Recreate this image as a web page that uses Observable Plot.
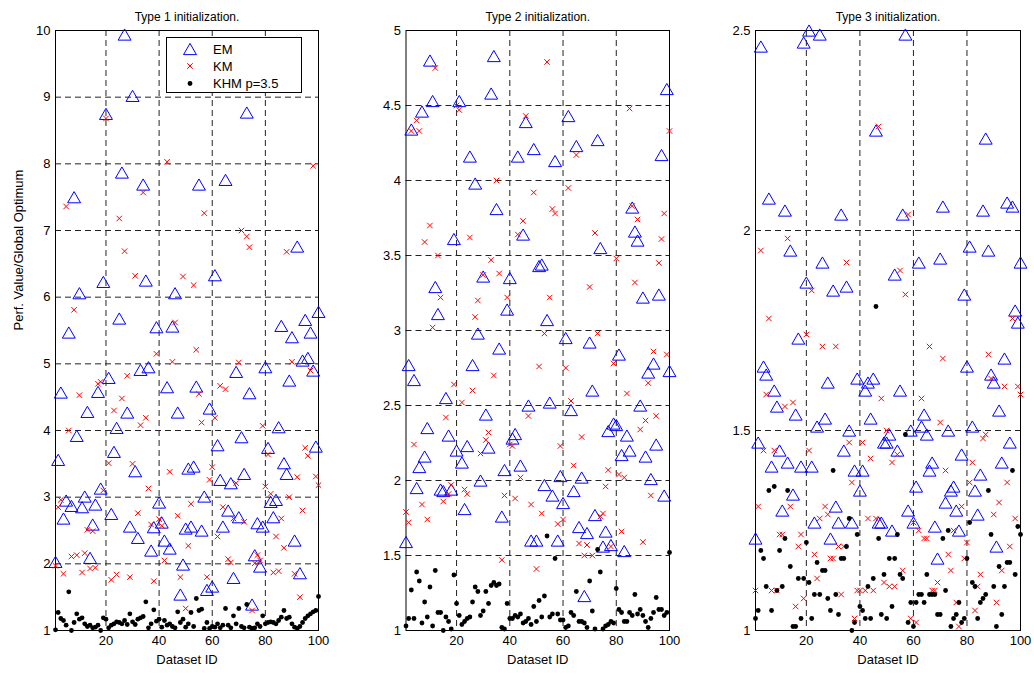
<!DOCTYPE html>
<html><head><meta charset="utf-8">
<script src="https://cdn.jsdelivr.net/npm/d3@7"></script>
<script src="https://cdn.jsdelivr.net/npm/@observablehq/plot@0.6"></script>
<style>
body{margin:0;background:#fff;font-family:"Liberation Sans",Arial,sans-serif;}
#wrap{position:relative;width:1034px;height:674px;overflow:hidden;background:#fff;}
.legend{position:absolute;left:166px;top:37px;width:136px;height:56px;border:1px solid #000;background:#fff;box-sizing:border-box;}
.legend svg{position:absolute;left:0;top:0;}
</style></head><body><div id="wrap"></div>
<script>
// ---- data ----
const datasetIds = d3.range(1, 101);
const xTicks = [20, 40, 60, 80, 100];
const titles = ["Type 1 initialization.", "Type 2 initialization.", "Type 3 initialization."];
const seriesNames = ["EM", "KM", "KHM p=3.5"];
const yTicks1 = [1, 2, 3, 4, 5, 6, 7, 8, 9, 10];
const yTicks2 = [1, 1.5, 2, 2.5, 3, 3.5, 4, 4.5, 5];
const yTicks3 = [1, 1.5, 2, 2.5];
const yLabel = "Perf. Value/Global Optimum";
const xLabel = "Dataset ID";

const em1 = [2.03,3.56,4.57,2.68,2.95,5.47,2.87,7.5,3.92,6.06,
 2.85,3.01,4.28,2.09,2.59,2.89,4.58,3.13,6.23,8.75,
 4.79,2.75,3.68,4.04,5.68,7.87,9.94,4.27,2.56,9.02,
 3.39,2.39,4.91,7.69,6.25,4.95,2.2,2.55,5.55,2.92,
 2.62,2.35,4.65,2.23,5.56,6.06,4.27,1.54,1.99,2.53,
 3.43,2.56,3.46,4.66,7.69,2.5,3.01,1.61,4.33,1.66,
 6.33,3.78,3.26,2.56,7.76,2.8,3.21,1.79,4.88,2.7,
 3.9,3.35,8.77,4.56,1.39,2.13,2.61,1.96,2.56,4.95,
 3.74,2.93,2.7,2.96,4.05,5.57,3.51,3.35,4.75,5.4,
 2.35,6.76,1.86,5.05,5.66,5.09,5.47,4.9,3.76,5.78];
const km1 = [1.97,2.85,2.96,1.85,7.36,4.0,2.11,5.81,2.13,4.53,
 1.87,2.16,2.51,1.93,2.49,1.94,4.7,4.73,3.1,8.68,
 3.51,1.76,4.3,1.84,7.18,4.48,6.69,4.82,1.8,3.5,
 6.32,2.76,4.08,7.57,4.19,3.13,2.59,1.74,5.15,2.67,
 2.57,2.05,8.03,3.38,5.03,5.62,2.72,1.8,6.31,1.33,
 2.27,2.9,6.18,5.21,4.55,4.12,7.26,1.8,3.26,3.45,
 4.19,2.41,4.67,2.85,4.62,2.07,2.02,2.68,3.21,5.02,
 7.0,2.63,6.91,6.75,1.3,2.01,2.13,2.05,4.07,3.16,
 3.64,3.05,1.87,2.41,1.89,2.68,2.24,6.68,3.0,5.03,
 1.85,3.3,1.5,2.8,3.74,3.62,4.9,7.97,3.31,3.18];
const khm1 = [1.01,1.27,1.18,1.15,1.08,1.58,1.0,1.12,1.25,1.17,
 1.19,1.1,1.06,1.08,1.04,1.05,1.08,1.0,1.19,1.17,
 1.04,1.08,1.1,1.13,1.12,1.1,1.15,1.09,1.25,1.13,
 1.09,1.17,1.19,1.21,1.43,1.04,1.1,1.31,1.14,1.17,
 1.05,1.15,1.08,1.1,1.06,1.04,1.28,1.12,1.17,1.05,
 1.1,1.27,1.06,1.48,1.3,1.32,1.03,1.12,1.03,1.06,
 1.05,1.1,1.04,1.08,1.33,1.08,1.04,1.22,1.1,1.33,
 1.06,1.04,1.39,1.05,1.03,1.04,1.1,1.06,1.22,1.1,
 1.12,1.13,1.12,1.1,1.15,1.2,1.3,1.18,1.2,1.1,
 1.05,1.03,1.06,1.12,1.18,1.22,1.25,1.28,1.3,1.51];

const em2 = [1.59,2.77,4.34,2.67,1.95,2.09,4.46,2.16,2.35,4.8,
 4.53,3.29,3.11,1.94,1.93,2.55,2.3,1.94,3.61,2.2,
 4.53,2.12,1.81,2.23,4.16,2.77,3.98,2.98,2.0,3.36,
 2.44,2.22,4.58,4.83,3.81,2.88,1.76,2.07,3.14,3.35,
 2.28,2.31,4.16,2.1,3.64,4.39,2.5,1.6,4.21,1.6,
 3.43,3.44,1.97,3.07,2.52,1.9,4.13,1.6,2.03,1.85,
 2.95,4.43,2.47,1.93,4.23,1.69,2.02,1.23,1.65,2.92,
 2.6,1.77,4.27,3.55,1.56,1.66,2.33,1.57,2.38,2.37,
 2.84,2.17,1.53,2.3,2.2,3.82,3.66,3.6,2.5,3.22,
 2.16,2.72,2.01,2.78,2.24,3.24,4.17,1.9,4.61,2.73];
const km2 = [1.79,1.72,4.33,2.24,4.4,4.33,1.84,3.59,1.74,3.7,
 3.02,4.75,3.5,3.22,1.86,2.42,1.91,1.97,2.64,4.5,
 4.47,2.52,1.94,1.91,3.62,2.6,3.09,3.2,2.18,3.37,
 2.27,2.32,3.47,2.7,4.0,3.38,1.47,1.9,3.22,2.24,
 2.23,1.88,3.64,2.02,3.73,4.43,2.43,1.84,3.92,1.41,
 2.76,1.78,2.98,4.79,3.22,3.81,3.78,1.71,2.23,1.74,
 2.75,3.95,2.53,2.1,4.17,1.58,2.29,1.5,1.57,3.29,
 1.5,3.65,2.98,1.76,1.78,1.96,2.07,1.56,2.78,3.48,
 2.04,1.66,2.02,2.58,4.48,3.83,3.32,3.74,2.34,1.59,
 2.4,2.65,1.9,2.86,2.43,3.45,3.61,3.78,2.84,4.33];
const khm2 = [1.03,1.08,1.27,1.08,1.39,1.33,1.05,1.19,1.09,1.29,
 1.03,1.4,1.12,1.12,1.0,1.09,1.06,1.01,1.37,1.18,
 1.1,1.04,1.06,1.08,1.09,1.19,1.29,1.26,1.1,1.13,
 1.26,1.18,1.3,1.32,1.3,1.31,1.02,1.01,1.18,1.08,
 1.08,1.1,1.09,1.11,1.05,1.06,1.08,1.04,1.16,1.06,
 1.2,1.09,1.23,1.63,1.09,1.11,1.48,1.11,1.07,1.07,
 1.02,1.03,1.12,1.1,1.26,1.06,1.06,1.05,1.02,1.33,
 1.13,1.01,1.54,1.39,1.01,1.03,1.04,1.06,1.05,1.28,
 1.14,1.12,1.06,1.06,1.12,1.1,1.24,1.11,1.14,1.1,
 1.06,1.02,1.08,1.12,1.22,1.14,1.14,1.1,1.12,1.52];

const em3 = [1.23,1.47,2.46,1.66,1.64,2.08,1.41,1.6,1.56,1.45,
 1.3,2.05,1.42,1.95,1.34,1.54,1.73,1.41,2.47,1.87,
 2.5,1.41,1.27,1.51,2.49,1.92,1.53,1.62,1.23,1.85,
 1.31,1.27,2.04,1.45,1.86,1.5,1.27,1.4,1.63,1.35,
 1.4,1.6,1.62,1.53,1.63,2.25,1.27,1.27,1.47,1.47,
 1.49,1.25,1.89,1.45,1.6,2.04,2.49,1.3,1.5,1.27,
 1.36,1.92,1.51,1.54,1.49,1.4,1.42,1.26,1.18,1.93,
 2.06,1.32,1.5,1.35,1.36,1.3,1.25,1.44,1.84,1.66,
 1.96,1.51,1.35,1.29,1.39,2.05,2.23,1.95,1.64,1.62,
 1.21,1.55,1.42,1.68,2.07,1.47,2.06,1.8,1.77,1.92];
const km3 = [1.1,1.31,1.95,1.45,1.59,1.78,1.1,1.45,1.1,1.24,
 1.24,1.56,1.98,1.31,1.57,1.06,1.21,1.24,1.08,1.74,
 1.45,1.85,1.19,1.13,1.28,1.71,1.31,1.29,1.18,1.18,
 1.71,1.21,1.09,1.21,1.92,1.47,1.37,1.03,1.1,1.1,
 1.47,1.1,1.28,1.43,1.1,1.28,2.26,1.58,1.12,1.5,
 1.11,1.42,1.11,1.44,1.9,1.15,1.84,2.04,1.03,1.27,
 1.02,1.25,1.58,1.23,1.23,1.71,1.1,1.1,1.12,1.52,
 1.68,1.4,1.19,1.15,1.25,1.07,1.01,1.31,1.18,1.22,
 1.37,1.42,1.05,1.11,1.14,1.48,1.49,1.69,1.63,1.29,
 1.07,1.32,1.15,1.61,1.37,1.21,1.78,1.28,1.61,1.59];
const khm3 = [1.03,1.05,1.2,1.18,1.11,1.35,1.05,1.36,1.1,1.2,
 1.11,1.23,1.35,1.16,1.01,1.01,1.13,1.03,1.13,1.22,
 1.12,1.03,1.09,1.17,1.09,1.15,1.15,1.08,1.05,1.4,
 1.09,1.04,1.18,1.18,1.21,1.28,1.0,1.02,1.24,1.06,
 1.05,1.03,1.11,1.03,1.13,1.81,1.23,1.04,1.14,1.03,
 1.18,1.06,1.18,1.24,1.14,1.13,1.49,1.02,1.07,1.01,
 1.07,1.09,1.09,1.07,1.14,1.09,1.09,1.09,1.04,1.04,
 1.23,1.1,1.25,1.01,1.03,1.04,1.07,1.02,1.03,1.18,
 1.27,1.12,1.11,1.03,1.07,1.08,1.09,1.35,1.24,1.11,
 1.01,1.16,1.04,1.11,1.17,1.17,1.4,1.14,1.26,1.24];

// ---- layout (not data) ----
const panels = [
  {title: titles[0], em: em1, km: km1, khm: khm1, yTicks: yTicks1, left: 0,   width: 330, ml: 55,   mr: 12, ylab: true},
  {title: titles[1], em: em2, km: km2, khm: khm2, yTicks: yTicks2, left: 360, width: 320, ml: 45.5, mr: 11, ylab: false},
  {title: titles[2], em: em3, km: km3, khm: khm3, yTicks: yTicks3, left: 710, width: 324, ml: 45,   mr: 14, ylab: false}
];
const FONT = "'Liberation Sans', Arial, Helvetica, sans-serif";
const wrap = document.getElementById("wrap");

panels.forEach(p => {
  const rows = datasetIds.map((id, k) => ({id, em: p.em[k], km: p.km[k], khm: p.khm[k]}));
  const yMin = p.yTicks[0], yMax = p.yTicks[p.yTicks.length - 1];
  const marks = [
    Plot.gridX(xTicks.slice(0, -1), {stroke: "#222", strokeOpacity: 1, strokeWidth: 1, strokeDasharray: "6,4"}),
    Plot.gridY(p.yTicks.slice(1, -1), {stroke: "#222", strokeOpacity: 1, strokeWidth: 1, strokeDasharray: "6,4"}),
    Plot.frame({stroke: "#000", strokeWidth: 1}),
    Plot.axisX({ticks: xTicks, tickSize: 0, tickPadding: 5, tickFormat: d => String(d), fontSize: 13, label: null}),
    Plot.axisY({ticks: p.yTicks, tickSize: 0, tickPadding: 5, tickFormat: d => String(d), fontSize: 13, label: null}),
    Plot.dot(rows, {x: "id", y: "em", symbol: "triangle", r: 4.8, dy: 1.9, stroke: "#0000ff", fill: "none", strokeWidth: 1}),
    Plot.dot(rows, {x: "id", y: "km", symbol: "times", r: 2.6, stroke: "#ff0000", strokeWidth: 1}),
    Plot.dot(rows, {x: "id", y: "khm", r: 2.4, fill: "#000", stroke: "none"}),
    Plot.text([p.title], {text: d => d, frameAnchor: "top", dy: -18, fontSize: 12, fill: "#000"}),
    Plot.text([xLabel], {text: d => d, frameAnchor: "bottom", dy: 33, fontSize: 13, fill: "#000"})
  ];
  if (p.ylab) marks.push(Plot.text([yLabel], {text: d => d, frameAnchor: "left", dx: -37, rotate: -90, fontSize: 13, fill: "#000"}));
  const svg = Plot.plot({
    width: p.width, height: 674,
    marginLeft: p.ml, marginRight: p.mr, marginTop: 30, marginBottom: 44,
    x: {domain: [1, 100]},
    y: {domain: [yMin, yMax]},
    style: {fontFamily: FONT, fontSize: "13px", color: "#000", background: "transparent", overflow: "visible"},
    marks
  });
  svg.style.position = "absolute";
  svg.style.top = "0px";
  svg.style.left = p.left + "px";
  svg.style.maxWidth = "none";
  wrap.appendChild(svg);
});

// legend box (panel 1)
const leg = document.createElement("div");
leg.className = "legend";
wrap.appendChild(leg);
const ls = d3.select(leg).append("svg").attr("width", 136).attr("height", 56);
const rowsY = [11, 28, 45.5];
const triPath = d3.symbol(d3.symbolTriangle, 4.8 * 4.8 * Math.PI)();
const timesPath = d3.symbol(d3.symbolTimes, 2.6 * 2.6 * Math.PI)();
ls.append("path").attr("d", triPath).attr("transform", `translate(23,${rowsY[0] + 1.9})`).attr("fill", "none").attr("stroke", "#0000ff");
ls.append("path").attr("d", timesPath).attr("transform", `translate(23,${rowsY[1]})`).attr("fill", "none").attr("stroke", "#ff0000");
ls.append("circle").attr("cx", 23).attr("cy", rowsY[2]).attr("r", 2.4).attr("fill", "#000");
seriesNames.forEach((n, i) => {
  ls.append("text").attr("x", 46).attr("y", rowsY[i]).attr("dy", "0.35em")
    .attr("font-family", FONT).attr("font-size", 13).attr("fill", "#000").text(n);
});
</script></body></html>
